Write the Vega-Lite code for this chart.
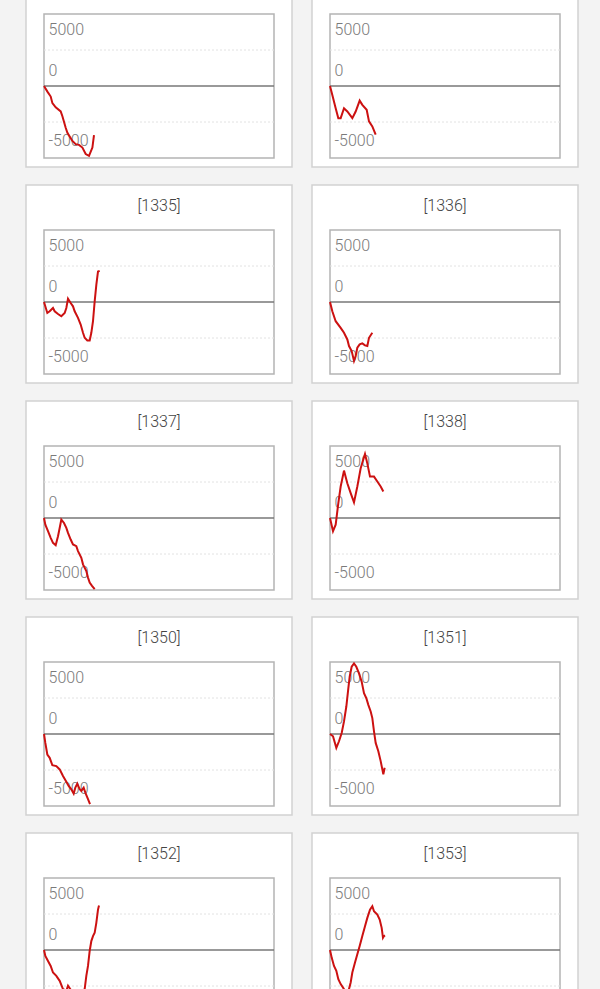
{
  "$schema": "https://vega.github.io/schema/vega-lite/v6.json",
  "background": "#f3f3f3",
  "padding": {"left": 25, "right": 25, "top": -32, "bottom": 0},
  "config": {
    "view": {"fill": "white", "stroke": "#d2d2d2", "strokeWidth": 1.5},
    "axisX": {"disable": true},
    "axisY": {"domain": false, "ticks": false, "tickSize": 0, "grid": false, "labelAlign": "left", "labelPadding": -22, "labelFont": "Roboto", "labelFontWeight": 300, "labelFontSize": 16, "labelColor": "#7a7a7a", "labelBaseline": "middle"}
  },
  "data": {"values": [
    {"m":"[1333]","g":0,"v":0},{"m":"[1333]","g":136,"v":-780},{"m":"[1333]","g":268,"v":-1466},{"m":"[1333]","g":336,"v":-2380},{"m":"[1333]","g":468,"v":-2970},{"m":"[1333]","g":668,"v":-3520},{"m":"[1333]","g":736,"v":-4200},{"m":"[1333]","g":868,"v":-5800},{"m":"[1333]","g":936,"v":-6490},{"m":"[1333]","g":1136,"v":-7630},{"m":"[1333]","g":1268,"v":-8080},{"m":"[1333]","g":1400,"v":-8180},{"m":"[1333]","g":1536,"v":-8550},{"m":"[1333]","g":1668,"v":-9450},{"m":"[1333]","g":1800,"v":-9690},{"m":"[1333]","g":1936,"v":-8550},{"m":"[1333]","g":2000,"v":-6810},
    {"m":"[1334]","g":0,"v":0},{"m":"[1334]","g":93,"v":-1240},{"m":"[1334]","g":227,"v":-3090},{"m":"[1334]","g":333,"v":-4470},{"m":"[1334]","g":427,"v":-4470},{"m":"[1334]","g":560,"v":-3090},{"m":"[1334]","g":693,"v":-3540},{"m":"[1334]","g":893,"v":-4470},{"m":"[1334]","g":1027,"v":-3540},{"m":"[1334]","g":1187,"v":-2030},{"m":"[1334]","g":1293,"v":-2620},{"m":"[1334]","g":1467,"v":-3310},{"m":"[1334]","g":1560,"v":-4920},{"m":"[1334]","g":1693,"v":-5610},{"m":"[1334]","g":1827,"v":-6760},
    {"m":"[1335]","g":0,"v":0},{"m":"[1335]","g":133,"v":-1520},{"m":"[1335]","g":227,"v":-1290},{"m":"[1335]","g":360,"v":-830},{"m":"[1335]","g":427,"v":-1290},{"m":"[1335]","g":560,"v":-1660},{"m":"[1335]","g":693,"v":-1980},{"m":"[1335]","g":827,"v":-1520},{"m":"[1335]","g":893,"v":-830},{"m":"[1335]","g":960,"v":460},{"m":"[1335]","g":1067,"v":-140},{"m":"[1335]","g":1160,"v":-600},{"m":"[1335]","g":1227,"v":-1290},{"m":"[1335]","g":1360,"v":-2210},{"m":"[1335]","g":1467,"v":-3130},{"m":"[1335]","g":1560,"v":-4280},{"m":"[1335]","g":1627,"v":-4970},{"m":"[1335]","g":1733,"v":-5340},{"m":"[1335]","g":1827,"v":-5340},{"m":"[1335]","g":1893,"v":-4280},{"m":"[1335]","g":1960,"v":-2670},{"m":"[1335]","g":2027,"v":90},{"m":"[1335]","g":2093,"v":2390},{"m":"[1335]","g":2160,"v":4240},{"m":"[1335]","g":2227,"v":4320},
    {"m":"[1336]","g":0,"v":0},{"m":"[1336]","g":93,"v":-1290},{"m":"[1336]","g":227,"v":-2670},{"m":"[1336]","g":427,"v":-3590},{"m":"[1336]","g":560,"v":-4280},{"m":"[1336]","g":693,"v":-5200},{"m":"[1336]","g":760,"v":-6120},{"m":"[1336]","g":867,"v":-6810},{"m":"[1336]","g":960,"v":-8190},{"m":"[1336]","g":1027,"v":-7500},{"m":"[1336]","g":1093,"v":-6350},{"m":"[1336]","g":1187,"v":-5890},{"m":"[1336]","g":1293,"v":-5750},{"m":"[1336]","g":1400,"v":-6030},{"m":"[1336]","g":1493,"v":-6120},{"m":"[1336]","g":1560,"v":-4970},{"m":"[1336]","g":1693,"v":-4280},
    {"m":"[1337]","g":0,"v":0},{"m":"[1337]","g":53,"v":-920},{"m":"[1337]","g":160,"v":-1840},{"m":"[1337]","g":267,"v":-2760},{"m":"[1337]","g":360,"v":-3450},{"m":"[1337]","g":467,"v":-3770},{"m":"[1337]","g":560,"v":-2530},{"m":"[1337]","g":627,"v":-1380},{"m":"[1337]","g":693,"v":-230},{"m":"[1337]","g":800,"v":-690},{"m":"[1337]","g":893,"v":-1380},{"m":"[1337]","g":960,"v":-2070},{"m":"[1337]","g":1067,"v":-2990},{"m":"[1337]","g":1160,"v":-3680},{"m":"[1337]","g":1293,"v":-3910},{"m":"[1337]","g":1360,"v":-4600},{"m":"[1337]","g":1493,"v":-5520},{"m":"[1337]","g":1560,"v":-6440},{"m":"[1337]","g":1693,"v":-7360},{"m":"[1337]","g":1760,"v":-8280},{"m":"[1337]","g":1827,"v":-8970},{"m":"[1337]","g":1920,"v":-9430},{"m":"[1337]","g":2027,"v":-9890},
    {"m":"[1338]","g":0,"v":0},{"m":"[1338]","g":120,"v":-1840},{"m":"[1338]","g":227,"v":-920},{"m":"[1338]","g":333,"v":2070},{"m":"[1338]","g":427,"v":4370},{"m":"[1338]","g":560,"v":6580},{"m":"[1338]","g":693,"v":4830},{"m":"[1338]","g":827,"v":3450},{"m":"[1338]","g":960,"v":2160},{"m":"[1338]","g":1093,"v":4370},{"m":"[1338]","g":1227,"v":6900},{"m":"[1338]","g":1400,"v":8880},{"m":"[1338]","g":1493,"v":7590},{"m":"[1338]","g":1600,"v":5750},{"m":"[1338]","g":1760,"v":5750},{"m":"[1338]","g":1893,"v":5060},{"m":"[1338]","g":2027,"v":4370},{"m":"[1338]","g":2133,"v":3680},
    {"m":"[1350]","g":0,"v":0},{"m":"[1350]","g":53,"v":-1240},{"m":"[1350]","g":133,"v":-2850},{"m":"[1350]","g":227,"v":-3310},{"m":"[1350]","g":333,"v":-4320},{"m":"[1350]","g":493,"v":-4460},{"m":"[1350]","g":627,"v":-4920},{"m":"[1350]","g":760,"v":-5840},{"m":"[1350]","g":893,"v":-6620},{"m":"[1350]","g":987,"v":-7220},{"m":"[1350]","g":1093,"v":-7680},{"m":"[1350]","g":1187,"v":-8280},{"m":"[1350]","g":1253,"v":-7450},{"m":"[1350]","g":1333,"v":-6900},{"m":"[1350]","g":1427,"v":-7680},{"m":"[1350]","g":1493,"v":-7910},{"m":"[1350]","g":1587,"v":-7450},{"m":"[1350]","g":1653,"v":-8140},{"m":"[1350]","g":1760,"v":-9060},{"m":"[1350]","g":1840,"v":-9750},
    {"m":"[1351]","g":0,"v":0},{"m":"[1351]","g":120,"v":-320},{"m":"[1351]","g":253,"v":-1930},{"m":"[1351]","g":360,"v":-1010},{"m":"[1351]","g":467,"v":140},{"m":"[1351]","g":560,"v":1750},{"m":"[1351]","g":653,"v":3820},{"m":"[1351]","g":733,"v":6350},{"m":"[1351]","g":787,"v":7960},{"m":"[1351]","g":867,"v":9340},{"m":"[1351]","g":960,"v":9800},{"m":"[1351]","g":1053,"v":9340},{"m":"[1351]","g":1160,"v":8420},{"m":"[1351]","g":1267,"v":7270},{"m":"[1351]","g":1360,"v":5660},{"m":"[1351]","g":1453,"v":4970},{"m":"[1351]","g":1533,"v":4050},{"m":"[1351]","g":1627,"v":3130},{"m":"[1351]","g":1693,"v":2210},{"m":"[1351]","g":1760,"v":370},{"m":"[1351]","g":1827,"v":-1240},{"m":"[1351]","g":1933,"v":-2390},{"m":"[1351]","g":2027,"v":-3770},{"m":"[1351]","g":2093,"v":-4920},{"m":"[1351]","g":2133,"v":-5610},{"m":"[1351]","g":2187,"v":-4690},
    {"m":"[1352]","g":0,"v":0},{"m":"[1352]","g":53,"v":-830},{"m":"[1352]","g":160,"v":-1520},{"m":"[1352]","g":267,"v":-2210},{"m":"[1352]","g":360,"v":-3130},{"m":"[1352]","g":493,"v":-3590},{"m":"[1352]","g":627,"v":-4280},{"m":"[1352]","g":760,"v":-5430},{"m":"[1352]","g":893,"v":-5660},{"m":"[1352]","g":960,"v":-4970},{"m":"[1352]","g":1067,"v":-5520},{"m":"[1352]","g":1227,"v":-6810},{"m":"[1352]","g":1427,"v":-7270},{"m":"[1352]","g":1560,"v":-6350},{"m":"[1352]","g":1627,"v":-5430},{"m":"[1352]","g":1693,"v":-3590},{"m":"[1352]","g":1760,"v":-2210},{"m":"[1352]","g":1827,"v":-140},{"m":"[1352]","g":1893,"v":1240},{"m":"[1352]","g":1960,"v":1930},{"m":"[1352]","g":2027,"v":2390},{"m":"[1352]","g":2093,"v":3770},{"m":"[1352]","g":2160,"v":5610},{"m":"[1352]","g":2200,"v":6170},
    {"m":"[1353]","g":0,"v":0},{"m":"[1353]","g":67,"v":-1060},{"m":"[1353]","g":160,"v":-2210},{"m":"[1353]","g":253,"v":-2900},{"m":"[1353]","g":333,"v":-4050},{"m":"[1353]","g":427,"v":-4740},{"m":"[1353]","g":560,"v":-5430},{"m":"[1353]","g":667,"v":-5890},{"m":"[1353]","g":760,"v":-5430},{"m":"[1353]","g":827,"v":-4510},{"m":"[1353]","g":893,"v":-3130},{"m":"[1353]","g":1000,"v":-1750},{"m":"[1353]","g":1093,"v":-600},{"m":"[1353]","g":1187,"v":550},{"m":"[1353]","g":1293,"v":1930},{"m":"[1353]","g":1400,"v":3310},{"m":"[1353]","g":1493,"v":4460},{"m":"[1353]","g":1600,"v":5610},{"m":"[1353]","g":1693,"v":6070},{"m":"[1353]","g":1760,"v":5380},{"m":"[1353]","g":1893,"v":4920},{"m":"[1353]","g":1987,"v":4230},{"m":"[1353]","g":2067,"v":3080},{"m":"[1353]","g":2120,"v":1700},{"m":"[1353]","g":2160,"v":1930},{"m":"[1353]","g":2200,"v":2020}
  ]},
  "facet": {"field": "m", "type": "nominal", "sort": ["[1333]","[1334]","[1335]","[1336]","[1337]","[1338]","[1350]","[1351]","[1352]","[1353]"], "header": {"title": null, "labelExpr": "''", "labelFontSize": 0, "labelPadding": 0, "labelLimit": 1}},
  "columns": 2,
  "spacing": {"row": 16, "column": 18},
  "resolve": {"axis": {"y": "independent"}},
  "spec": {
    "width": 266,
    "height": 198,
    "layer": [
      {
        "transform": [{"filter": "datum.g == 0"}],
        "mark": {"type": "rect", "fill": null, "stroke": "#b4b4b4", "strokeWidth": 1.5},
        "encoding": {
          "x": {"datum": 0, "type": "quantitative", "scale": {"domain": [0, 9200], "range": [18, 248], "zero": false, "nice": false}},
          "x2": {"datum": 9200},
          "y": {"datum": -10000, "type": "quantitative", "scale": {"domain": [-10000, 10000], "range": [189, 45], "zero": false, "nice": false}},
          "y2": {"datum": 10000}
        }
      },
      {
        "transform": [{"filter": "datum.g == 0"}],
        "mark": {"type": "rule", "stroke": "#e2e2e2", "strokeWidth": 1, "strokeDash": [2, 2]},
        "encoding": {
          "x": {"datum": 0, "type": "quantitative"},
          "x2": {"datum": 9200},
          "y": {"datum": 5000, "type": "quantitative"}
        }
      },
      {
        "transform": [{"filter": "datum.g == 0"}],
        "mark": {"type": "rule", "stroke": "#e2e2e2", "strokeWidth": 1, "strokeDash": [2, 2]},
        "encoding": {
          "x": {"datum": 0, "type": "quantitative"},
          "x2": {"datum": 9200},
          "y": {"datum": -5000, "type": "quantitative"}
        }
      },
      {
        "transform": [{"filter": "datum.g == 0"}],
        "mark": {"type": "rule", "stroke": "#777777", "strokeWidth": 1.6},
        "encoding": {
          "x": {"datum": 0, "type": "quantitative"},
          "x2": {"datum": 9200},
          "y": {"datum": 0, "type": "quantitative"}
        }
      },
      {
        "mark": {"type": "line", "color": "#cc1111", "strokeWidth": 2},
        "encoding": {
          "x": {"field": "g", "type": "quantitative"},
          "y": {"field": "v", "type": "quantitative", "axis": {"values": [5000, 0, -5000], "title": null, "labelExpr": "'' + datum.value", "labelOffset": {"condition": [{"test": "datum.value < 0", "value": 18}, {"test": "datum.value > 0", "value": -21}], "value": -16}}}
        }
      },
      {
        "transform": [{"filter": "datum.g == 0"}],
        "mark": {"type": "text", "font": "Roboto", "fontWeight": 300, "fontSize": 16, "color": "#444444", "baseline": "middle", "align": "center"},
        "encoding": {
          "x": {"datum": 4600, "type": "quantitative"},
          "y": {"datum": 13400, "type": "quantitative"},
          "text": {"field": "m", "type": "nominal"}
        }
      }
    ]
  }
}
